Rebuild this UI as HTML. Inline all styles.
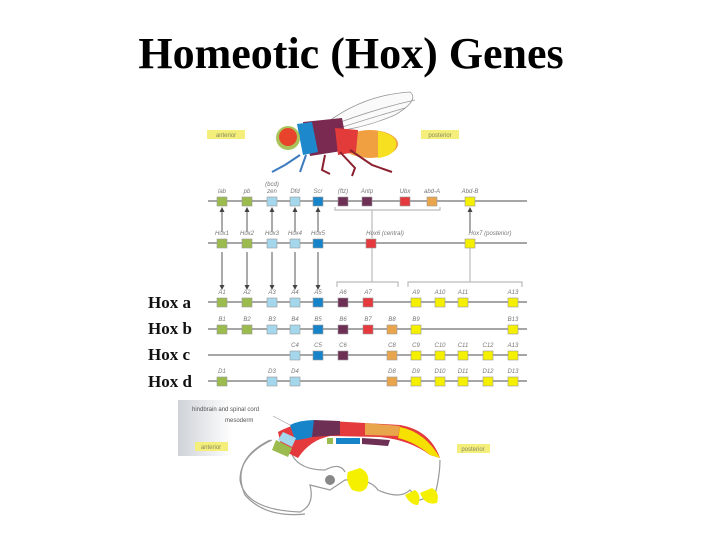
<!DOCTYPE html>
<html><head><meta charset="utf-8"><style>
body{margin:0;background:#fff}
svg{display:block}
.t{font-family:"Liberation Sans",sans-serif;font-style:italic;font-size:6px;fill:#777;text-anchor:middle}
.r{font-family:"Liberation Serif",serif;font-weight:bold;font-size:17px;fill:#111}
.ln{stroke:#888;stroke-width:1.5}
.g{fill:#9cbb4e}.lb{fill:#a4d6ec}.b{fill:#1784c9}.p{fill:#6e2f55}.rd{fill:#e53a3d}.o{fill:#e9a54b}.y{fill:#f5f000}
rect.bx{stroke:#999;stroke-width:.6;width:10px;height:9px}
</style></head><body>
<svg width="720" height="539" viewBox="0 0 720 539">
<text x="351" y="68" font-family="Liberation Serif,serif" font-weight="bold" font-size="44" text-anchor="middle" fill="#000">Homeotic (Hox) Genes</text>

<!-- fly -->
<rect x="207" y="130" width="38" height="9" fill="#f4ef7a"/><text x="226" y="137" class="t" style="font-style:normal;fill:#886">anterior</text>
<rect x="421" y="130" width="38" height="9" fill="#f4ef7a"/><text x="440" y="137" class="t" style="font-style:normal;fill:#886">posterior</text>
<g fill="none" stroke="#999" stroke-width="0.8">
<path d="M320 128 Q360 95 410 92 Q420 100 395 115 Q360 130 325 132Z" fill="#fafafa"/>
<path d="M325 128 Q370 110 415 100"/><path d="M330 131 Q370 118 405 108"/>
</g>
<ellipse cx="370" cy="144" rx="28" ry="14" fill="#f0a040"/>
<path d="M378 131 Q398 135 396 146 Q394 156 378 158Z" fill="#f6e020"/>
<path d="M303 122 L342 118 L348 150 L310 156Z" fill="#7a2a50"/>
<path d="M335 128 L358 130 L356 152 L338 155Z" fill="#e33a3a"/>
<path d="M297 124 L312 122 L318 152 L303 155Z" fill="#1d88cc"/>
<circle cx="288" cy="138" r="12" fill="#a9c45a"/>
<circle cx="288" cy="137" r="9" fill="#e8442c"/>
<g stroke="#3d7ac0" stroke-width="2" fill="none"><path d="M300 155 L285 165 L272 172"/><path d="M306 155 L300 172"/></g>
<g stroke="#8a2030" stroke-width="2" fill="none"><path d="M325 155 L322 170 L330 174"/><path d="M340 152 L355 168 L352 176"/><path d="M350 150 L372 165 L392 172"/></g>

<!-- fly row -->
<line x1="208" y1="201" x2="527" y2="201" class="ln"/>
<line x1="208" y1="243" x2="527" y2="243" class="ln"/>
<g stroke="#555" stroke-width="1">
<line x1="222" y1="232" x2="222" y2="210"/><line x1="247" y1="232" x2="247" y2="210"/><line x1="272" y1="232" x2="272" y2="210"/><line x1="295" y1="232" x2="295" y2="210"/><line x1="318" y1="232" x2="318" y2="210"/><line x1="470" y1="232" x2="470" y2="210"/>
</g>
<g fill="#444"><path d="M219.5 212 L222 207 L224.5 212Z"/><path d="M244.5 212 L247 207 L249.5 212Z"/><path d="M269.5 212 L272 207 L274.5 212Z"/><path d="M292.5 212 L295 207 L297.5 212Z"/><path d="M315.5 212 L318 207 L320.5 212Z"/><path d="M467.5 212 L470 207 L472.5 212Z"/></g>
<path d="M335 207 L335 210 L440 210 L440 207 M372 210 L372 238" fill="none" stroke="#bbb" stroke-width="1.2"/>
<g>
<rect class="bx g" x="217" y="197"/><rect class="bx g" x="242" y="197"/><rect class="bx lb" x="267" y="197"/><rect class="bx lb" x="290" y="197"/><rect class="bx b" x="313" y="197"/><rect class="bx p" x="338" y="197"/><rect class="bx p" x="362" y="197"/><rect class="bx rd" x="400" y="197"/><rect class="bx o" x="427" y="197"/><rect class="bx y" x="465" y="197"/>
</g>
<text class="t" x="222" y="193">lab</text><text class="t" x="247" y="193">pb</text><text class="t" x="272" y="186">(bcd)</text><text class="t" x="272" y="193">zen</text><text class="t" x="295" y="193">Dfd</text><text class="t" x="318" y="193">Scr</text><text class="t" x="343" y="193">(ftz)</text><text class="t" x="367" y="193">Antp</text><text class="t" x="405" y="193">Ubx</text><text class="t" x="432" y="193">abd-A</text><text class="t" x="470" y="193">Abd-B</text>

<g>
<rect class="bx g" x="217" y="239"/><rect class="bx g" x="242" y="239"/><rect class="bx lb" x="267" y="239"/><rect class="bx lb" x="290" y="239"/><rect class="bx b" x="313" y="239"/><rect class="bx rd" x="366" y="239"/><rect class="bx y" x="465" y="239"/>
</g>
<text class="t" x="222" y="235">Hox1</text><text class="t" x="247" y="235">Hox2</text><text class="t" x="272" y="235">Hox3</text><text class="t" x="295" y="235">Hox4</text><text class="t" x="318" y="235">Hox5</text><text class="t" x="385" y="235">Hox6 (central)</text><text class="t" x="490" y="235">Hox7 (posterior)</text>

<g stroke="#555" stroke-width="1">
<line x1="222" y1="252" x2="222" y2="287"/><line x1="247" y1="252" x2="247" y2="287"/><line x1="272" y1="252" x2="272" y2="287"/><line x1="295" y1="252" x2="295" y2="287"/><line x1="318" y1="252" x2="318" y2="287"/>
</g>
<g fill="#444"><path d="M219.5 285 L222 290 L224.5 285Z"/><path d="M244.5 285 L247 290 L249.5 285Z"/><path d="M269.5 285 L272 290 L274.5 285Z"/><path d="M292.5 285 L295 290 L297.5 285Z"/><path d="M315.5 285 L318 290 L320.5 285Z"/></g>
<path d="M372 248 L372 282 M337 287 L337 282 L398 282 L398 287 M470 248 L470 282 M408 287 L408 282 L522 282 L522 287" fill="none" stroke="#bbb" stroke-width="1.2"/>

<!-- Hox a-d -->
<text class="r" x="148" y="308">Hox a</text><text class="r" x="148" y="334">Hox b</text><text class="r" x="148" y="360">Hox c</text><text class="r" x="148" y="387">Hox d</text>
<line x1="208" y1="302" x2="527" y2="302" class="ln"/><line x1="208" y1="329" x2="527" y2="329" class="ln"/><line x1="208" y1="355" x2="527" y2="355" class="ln"/><line x1="208" y1="381" x2="527" y2="381" class="ln"/>
<g>
<rect class="bx g" x="217" y="298"/><rect class="bx g" x="242" y="298"/><rect class="bx lb" x="267" y="298"/><rect class="bx lb" x="290" y="298"/><rect class="bx b" x="313" y="298"/><rect class="bx p" x="338" y="298"/><rect class="bx rd" x="363" y="298"/><rect class="bx y" x="411" y="298"/><rect class="bx y" x="435" y="298"/><rect class="bx y" x="458" y="298"/><rect class="bx y" x="508" y="298"/>
<rect class="bx g" x="217" y="325"/><rect class="bx g" x="242" y="325"/><rect class="bx lb" x="267" y="325"/><rect class="bx lb" x="290" y="325"/><rect class="bx b" x="313" y="325"/><rect class="bx p" x="338" y="325"/><rect class="bx rd" x="363" y="325"/><rect class="bx o" x="387" y="325"/><rect class="bx y" x="411" y="325"/><rect class="bx y" x="508" y="325"/>
<rect class="bx lb" x="290" y="351"/><rect class="bx b" x="313" y="351"/><rect class="bx p" x="338" y="351"/><rect class="bx o" x="387" y="351"/><rect class="bx y" x="411" y="351"/><rect class="bx y" x="435" y="351"/><rect class="bx y" x="458" y="351"/><rect class="bx y" x="483" y="351"/><rect class="bx y" x="508" y="351"/>
<rect class="bx g" x="217" y="377"/><rect class="bx lb" x="267" y="377"/><rect class="bx lb" x="290" y="377"/><rect class="bx o" x="387" y="377"/><rect class="bx y" x="411" y="377"/><rect class="bx y" x="435" y="377"/><rect class="bx y" x="458" y="377"/><rect class="bx y" x="483" y="377"/><rect class="bx y" x="508" y="377"/>
</g>
<text class="t" x="222" y="294">A1</text><text class="t" x="247" y="294">A2</text><text class="t" x="272" y="294">A3</text><text class="t" x="295" y="294">A4</text><text class="t" x="318" y="294">A5</text><text class="t" x="343" y="294">A6</text><text class="t" x="368" y="294">A7</text><text class="t" x="416" y="294">A9</text><text class="t" x="440" y="294">A10</text><text class="t" x="463" y="294">A11</text><text class="t" x="513" y="294">A13</text>
<text class="t" x="222" y="321">B1</text><text class="t" x="247" y="321">B2</text><text class="t" x="272" y="321">B3</text><text class="t" x="295" y="321">B4</text><text class="t" x="318" y="321">B5</text><text class="t" x="343" y="321">B6</text><text class="t" x="368" y="321">B7</text><text class="t" x="392" y="321">B8</text><text class="t" x="416" y="321">B9</text><text class="t" x="513" y="321">B13</text>
<text class="t" x="295" y="347">C4</text><text class="t" x="318" y="347">C5</text><text class="t" x="343" y="347">C6</text><text class="t" x="392" y="347">C8</text><text class="t" x="416" y="347">C9</text><text class="t" x="440" y="347">C10</text><text class="t" x="463" y="347">C11</text><text class="t" x="488" y="347">C12</text><text class="t" x="513" y="347">A13</text>
<text class="t" x="222" y="373">D1</text><text class="t" x="272" y="373">D3</text><text class="t" x="295" y="373">D4</text><text class="t" x="392" y="373">D8</text><text class="t" x="416" y="373">D9</text><text class="t" x="440" y="373">D10</text><text class="t" x="463" y="373">D11</text><text class="t" x="488" y="373">D12</text><text class="t" x="513" y="373">D13</text>

<!-- embryo -->
<defs><linearGradient id="gr" x1="0" x2="1"><stop offset="0" stop-color="#cfd3d8"/><stop offset="1" stop-color="#fff"/></linearGradient></defs>
<rect x="178" y="400" width="55" height="56" fill="url(#gr)"/>
<text x="192" y="411" font-family="Liberation Sans,sans-serif" font-size="6" fill="#555">hindbrain and spinal cord</text>
<text x="225" y="422" font-family="Liberation Sans,sans-serif" font-size="6" fill="#555">mesoderm</text>
<line x1="273" y1="416" x2="290" y2="425" stroke="#999" stroke-width=".6"/>
<rect x="195" y="442" width="33" height="9" fill="#f4ef7a"/><text x="211" y="449" class="t" style="font-style:normal;fill:#886">anterior</text>
<rect x="457" y="444" width="33" height="9" fill="#f4ef7a"/><text x="473" y="451" class="t" style="font-style:normal;fill:#886">posterior</text>
<g fill="none" stroke="#999" stroke-width="1.2">
<path d="M272 440 Q240 455 240 480 Q245 510 300 512 Q315 505 310 485 L330 490 L345 480 Q370 478 378 490 Q400 500 410 490 Q418 500 420 500 L435 495 Q440 475 440 460"/>
<path d="M270 440 Q230 460 245 495 Q265 518 305 514"/>
<path d="M292 455 Q300 470 325 470 Q340 462 345 472"/>
</g>
<path d="M278 432 Q300 420 330 421 L400 425 Q430 430 440 458 L430 455 Q410 440 380 437 L330 436 Q310 440 298 458 L282 450Z" fill="#e53a3d"/>
<path d="M290 425 Q300 420 315 420 L312 437 Q300 440 295 440Z" fill="#1784c9"/>
<path d="M314 420 L340 421 L340 435 L312 437Z" fill="#6e2f55"/>
<path d="M365 423 L400 426 L398 436 L365 435Z" fill="#e9a54b"/>
<path d="M400 427 Q425 432 440 458 L430 455 Q415 442 398 438Z" fill="#f5e000"/>
<path d="M283 432 L296 438 L292 447 L278 440Z" fill="#a4d6ec"/>
<path d="M276 440 L292 448 L288 457 L272 450Z" fill="#9cbb4e"/>
<path d="M327 438 L333 438 L333 444 L327 444Z" fill="#9cbb4e"/>
<path d="M336 438 L360 438 L360 444 L336 444Z" fill="#1784c9"/>
<path d="M362 438 L390 440 L388 446 L362 444Z" fill="#6e2f55"/>
<circle cx="330" cy="480" r="5" fill="#888"/>
<path d="M348 472 Q345 480 352 490 Q365 495 368 484 Q370 472 360 468Z" fill="#f5f000"/>
<path d="M405 495 Q410 505 418 505 Q422 495 415 490Z" fill="#f5f000"/>
<path d="M420 493 Q425 506 437 503 Q440 492 432 488Z" fill="#f5f000"/>
</svg>
</body></html>
